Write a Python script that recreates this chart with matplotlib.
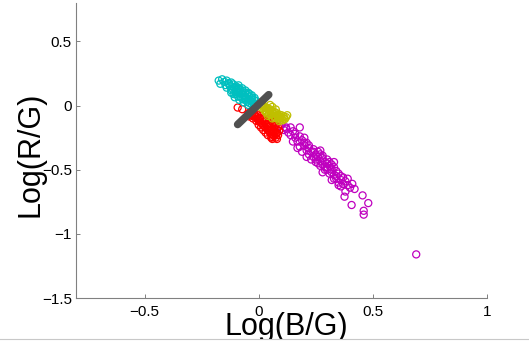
import matplotlib

matplotlib.use("Agg")
import matplotlib.pyplot as plt
from matplotlib.lines import Line2D

plt.rcParams["font.family"] = ["Liberation Sans", "DejaVu Sans"]

# cluster points, log chromaticity (x = log(B/G), y = log(R/G))
cyan_x = [-0.175, -0.160, -0.150, -0.168, -0.140, -0.130, -0.120, -0.145, -0.110, -0.125,
          -0.100, -0.105, -0.090, -0.095, -0.080, -0.085, -0.070, -0.075, -0.060, -0.065,
          -0.050, -0.055, -0.040, -0.045, -0.030, -0.035, -0.020, -0.025, -0.010, -0.015,
          -0.115, -0.088, -0.072, -0.058, -0.098, -0.046, -0.040, -0.062, -0.030, -0.018,
          -0.090, -0.070, -0.110, -0.050, -0.030,
          -0.140, -0.120, -0.100, -0.080, -0.060, -0.040, -0.020, -0.130, -0.110, -0.090,
          -0.105, -0.085, -0.120, -0.065, -0.045]
cyan_y = [0.195, 0.205, 0.185, 0.170, 0.195, 0.175, 0.180, 0.160, 0.165, 0.150,
          0.150, 0.135, 0.140, 0.120, 0.125, 0.105, 0.115, 0.095, 0.100, 0.080,
          0.085, 0.065, 0.070, 0.050, 0.060, 0.040, 0.045, 0.025, 0.035, 0.015,
          0.130, 0.158, 0.135, 0.118, 0.105, 0.100, 0.090, 0.060, 0.080, 0.060,
          0.070, 0.050, 0.090, 0.030, 0.010,
          0.140, 0.120, 0.090, 0.070, 0.045, 0.020, 0.000, 0.165, 0.145, 0.130,
          0.065, 0.045, 0.100, 0.025, 0.005]

red_x = [-0.092, -0.072, -0.045, -0.035, -0.030, -0.020, -0.015, -0.005, -0.025, 0.000,
         0.010, -0.010, 0.005, 0.020, 0.015, 0.030, 0.025, 0.040, 0.000, 0.035,
         0.050, 0.045, 0.060, 0.055, 0.070, 0.065, 0.080, 0.075, 0.085, 0.010,
         0.020, 0.030, 0.040, 0.055, 0.045, 0.060, 0.075, 0.085, 0.070, 0.090,
         0.050, 0.065, -0.040, 0.060, 0.080,
         -0.030, -0.010, 0.005, 0.015, 0.025, 0.035, 0.045, 0.055, 0.065, 0.075,
         0.020, 0.030, 0.040, 0.050, 0.060, 0.070, 0.010, 0.000, -0.020, 0.080]
red_y = [-0.015, -0.028, -0.060, -0.050, -0.075, -0.060, -0.090, -0.070, -0.100, -0.100,
         -0.080, -0.120, -0.125, -0.100, -0.140, -0.120, -0.160, -0.140, -0.150, -0.180,
         -0.160, -0.200, -0.180, -0.220, -0.200, -0.235, -0.215, -0.250, -0.230, -0.170,
         -0.190, -0.210, -0.230, -0.250, -0.110, -0.130, -0.150, -0.170, -0.160, -0.195,
         -0.095, -0.110, -0.085, -0.260, -0.260,
         -0.065, -0.085, -0.095, -0.115, -0.130, -0.150, -0.170, -0.190, -0.210, -0.225,
         -0.155, -0.170, -0.190, -0.210, -0.245, -0.180, -0.135, -0.115, -0.075, -0.190]

olive_x = [0.010, 0.020, 0.015, 0.030, 0.025, 0.040, 0.035, 0.050, 0.045, 0.060,
           0.055, 0.070, 0.065, 0.080, 0.075, 0.090, 0.085, 0.100, 0.095, 0.110,
           0.105, 0.120, 0.115, 0.125, 0.060, 0.075, 0.040, 0.060, 0.090, 0.050,
           0.020, 0.035, 0.050, 0.065, 0.080, 0.095, 0.110, 0.030, 0.045, 0.070,
           0.085, 0.100]
olive_y = [0.010, 0.000, -0.020, -0.010, -0.035, -0.020, -0.045, -0.030, -0.060, -0.040,
           -0.070, -0.050, -0.080, -0.060, -0.090, -0.070, -0.100, -0.075, -0.110, -0.085,
           -0.115, -0.090, -0.105, -0.075, -0.010, -0.030, -0.080, -0.100, -0.120, 0.005,
           -0.010, -0.025, -0.045, -0.060, -0.075, -0.090, -0.100, -0.050, -0.070, -0.095,
           -0.085, -0.095]

magenta_x = [0.09, 0.10, 0.12, 0.14, 0.18, 0.13, 0.11, 0.15, 0.16, 0.14,
             0.18, 0.19, 0.17, 0.21, 0.20, 0.18, 0.22, 0.19, 0.21, 0.23,
             0.24, 0.22, 0.25, 0.24, 0.26, 0.27, 0.25, 0.27, 0.28, 0.29,
             0.26, 0.28, 0.30, 0.31, 0.29, 0.32, 0.30, 0.32, 0.33, 0.34,
             0.31, 0.33, 0.35, 0.36, 0.34, 0.36, 0.37, 0.38, 0.35, 0.37,
             0.39, 0.36, 0.40, 0.42, 0.38, 0.455, 0.376, 0.48, 0.407, 0.46,
             0.46, 0.69, 0.23, 0.27, 0.30, 0.33, 0.20, 0.15, 0.17, 0.21,
             0.28, 0.32, 0.39, 0.41,
             0.20, 0.22, 0.24, 0.26, 0.28, 0.30, 0.32, 0.34, 0.25, 0.27,
             0.29, 0.31, 0.33, 0.35, 0.12, 0.16]
magenta_y = [-0.16, -0.15, -0.17, -0.17, -0.17, -0.21, -0.19, -0.20, -0.25, -0.23,
             -0.24, -0.27, -0.28, -0.29, -0.31, -0.32, -0.33, -0.36, -0.35, -0.36,
             -0.34, -0.38, -0.38, -0.40, -0.40, -0.38, -0.42, -0.43, -0.41, -0.44,
             -0.45, -0.46, -0.45, -0.47, -0.48, -0.46, -0.50, -0.50, -0.48, -0.51,
             -0.53, -0.54, -0.53, -0.55, -0.57, -0.58, -0.56, -0.59, -0.60, -0.61,
             -0.62, -0.63, -0.64, -0.65, -0.67, -0.70, -0.71, -0.76, -0.775, -0.82,
             -0.85, -1.16, -0.42, -0.35, -0.42, -0.44, -0.25, -0.28, -0.33, -0.40,
             -0.52, -0.58, -0.57, -0.61,
             -0.29, -0.31, -0.36, -0.36, -0.39, -0.48, -0.52, -0.55, -0.44, -0.47,
             -0.50, -0.44, -0.57, -0.62, -0.18, -0.22]

# fitted boundary segment
seg_x = [-0.092, 0.044]
seg_y = [-0.147, 0.085]

fig = plt.figure(figsize=(5.29, 3.45), dpi=100)
ax = fig.add_axes([76 / 529, 1 - 298 / 345, 411 / 529, 295 / 345])

kw = dict(s=26, facecolors="none", linewidths=0.9)
ax.scatter(magenta_x, magenta_y, edgecolors="#bf00bf", **kw)
ax.scatter(red_x, red_y, edgecolors="#ff0000", **kw)
ax.scatter(cyan_x, cyan_y, edgecolors="#00bfbf", **kw)
ax.scatter(olive_x, olive_y, edgecolors="#bfbf00", **kw)
ax.plot(seg_x, seg_y, color="#505050", linewidth=5.5, solid_capstyle="round")

ax.set_xlim(-0.8, 1.0)
ax.set_ylim(-1.5, 0.8)
ax.set_xticks([-0.5, 0, 0.5, 1])
ax.set_xticklabels(["\u22120.5", "0", "0.5", "1"])
ax.set_yticks([-1.5, -1, -0.5, 0, 0.5])
ax.set_yticklabels(["\u22121.5", "\u22121", "\u22120.5", "0", "0.5"])
ax.spines["top"].set_visible(False)
ax.spines["right"].set_visible(False)
for s in ("left", "bottom"):
    ax.spines[s].set_color("#808080")
    ax.spines[s].set_linewidth(0.8)
ax.tick_params(axis="both", direction="in", length=3, width=0.7, color="#808080",
               labelsize=11, labelcolor="black")
ax.tick_params(axis="x", pad=5)
ax.tick_params(axis="y", pad=3)

fig.text(31 / 529, 1 - 154 / 345, "Log(R/G)", rotation=90, fontsize=22,
         ha="center", va="center")
fig.text(286 / 529, 1 - 312 / 345, "Log(B/G)", fontsize=22, ha="center", va="top")

# cropped bottom edge of the original window
cover = plt.Rectangle((0, 0), 1, 6 / 345, transform=fig.transFigure,
                      facecolor="white", edgecolor="none", zorder=10)
fig.patches.append(cover)
fig.lines.append(Line2D([0, 1], [6 / 345, 6 / 345], transform=fig.transFigure,
                        color="#c8c8c8", linewidth=0.8, zorder=11))

fig.savefig("out.png", dpi=100)
